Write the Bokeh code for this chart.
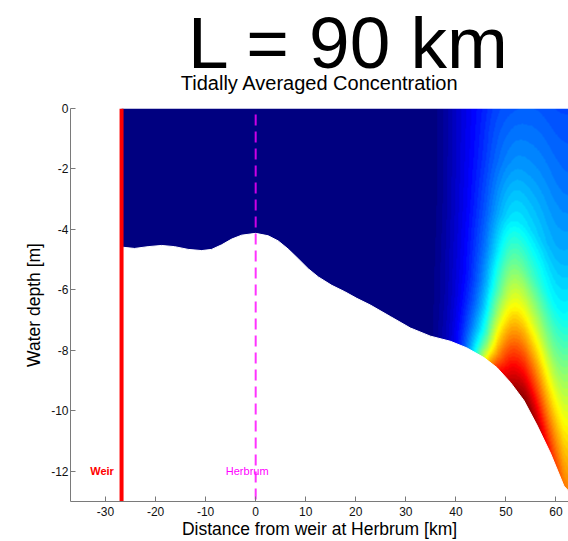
import numpy as np
from bokeh.plotting import figure
from bokeh.layouts import column
from bokeh.models import LinearColorMapper, Label, FixedTicker, Range1d
from bokeh.embed import file_html
from bokeh.resources import INLINE

# ---------------- texts ----------------
big_title = "L = 90 km"
plot_title = "Tidally Averaged Concentration"
x_label = "Distance from weir at Herbrum [km]"
y_label = "Water depth [m]"
weir_text = "Weir"
herbrum_text = "Herbrum"

# ---------------- ticks ----------------
x_ticks = [-30, -20, -10, 0, 10, 20, 30, 40, 50, 60]
x_tick_labels = ["-30", "-20", "-10", "0", "10", "20", "30", "40", "50", "60"]
y_ticks = [0, -2, -4, -6, -8, -10, -12]
y_tick_labels = ["0", "-2", "-4", "-6", "-8", "-10", "-12"]

# ---------------- data ----------------
weir_x = -26.8
herbrum_x = 0.0

# bed profile (distance km, depth m)
bed_x = [-26.8, -26.5, -24.2, -21.5, -18.8, -16.2, -13.5, -10.8, -8.8, -6.8, -4.8, -2.8,
         0.0, 2.5, 4.5, 6.5, 8.5, 10.5, 12.5, 15.2, 17.8, 20.2, 22.9, 26.9, 30.9,
         34.9, 38.9, 42.2, 45.6, 48.2, 50.9, 53.6, 56.2, 58.9, 61.6, 62.5]
bed_z = [-4.59, -4.59, -4.63, -4.57, -4.53, -4.57, -4.66, -4.70, -4.66, -4.51, -4.32, -4.19,
         -4.13, -4.21, -4.38, -4.65, -4.97, -5.30, -5.57, -5.85, -6.06, -6.28, -6.50, -6.88, -7.26,
         -7.53, -7.70, -7.92, -8.24, -8.57, -9.06, -9.66, -10.47, -11.40, -12.49, -12.65]

# tidally averaged concentration (normalised) at x positions and relative depth levels
conc_x = [34, 36, 38, 40, 42, 44, 46, 48, 50, 52, 54, 56, 58, 60, 62.5]
conc_sigma = [0.0, 0.2, 0.4, 0.55, 0.7, 0.8, 0.9, 0.95, 1.0]
conc_grid = [
    [0.00, 0.00, 0.00, 0.00, 0.00, 0.00, 0.00, 0.00, 0.00],
    [0.01, 0.01, 0.01, 0.012, 0.015, 0.015, 0.02, 0.02, 0.02],
    [0.04, 0.04, 0.04, 0.045, 0.05, 0.05, 0.055, 0.06, 0.06],
    [0.08, 0.08, 0.085, 0.09, 0.095, 0.10, 0.11, 0.115, 0.12],
    [0.11, 0.115, 0.12, 0.13, 0.14, 0.16, 0.19, 0.21, 0.23],
    [0.14, 0.15, 0.17, 0.19, 0.21, 0.24, 0.30, 0.35, 0.40],
    [0.17, 0.19, 0.22, 0.25, 0.30, 0.35, 0.43, 0.52, 0.65],
    [0.20, 0.23, 0.28, 0.34, 0.43, 0.53, 0.66, 0.73, 0.84],
    [0.21, 0.26, 0.34, 0.45, 0.57, 0.68, 0.80, 0.86, 0.92],
    [0.22, 0.28, 0.37, 0.50, 0.64, 0.75, 0.86, 0.92, 0.97],
    [0.22, 0.275, 0.35, 0.46, 0.61, 0.73, 0.86, 0.93, 1.00],
    [0.22, 0.27, 0.335, 0.43, 0.58, 0.70, 0.82, 0.89, 0.95],
    [0.21, 0.26, 0.31, 0.39, 0.52, 0.63, 0.74, 0.80, 0.86],
    [0.20, 0.245, 0.295, 0.36, 0.48, 0.58, 0.69, 0.74, 0.79],
    [0.20, 0.24, 0.31, 0.39, 0.53, 0.60, 0.67, 0.70, 0.73],
]

# ---------------- jet colormap (64 levels) ----------------
t = np.linspace(0, 1, 64)
r = np.clip(1.5 - np.abs(4 * t - 3), 0, 1)
g = np.clip(1.5 - np.abs(4 * t - 2), 0, 1)
b = np.clip(1.5 - np.abs(4 * t - 1), 0, 1)
jet = ["#%02x%02x%02x" % (int(round(255 * a)), int(round(255 * c)), int(round(255 * d)))
       for a, c, d in zip(r, g, b)]

X0, X1 = -37.0, 62.5
Y0, Y1 = -13.0, 0.0

# ---------------- field image (shading) ----------------
nx, ny = 900, 520
xs = np.linspace(weir_x, X1, nx)
ys = np.linspace(Y0, Y1, ny)
H = np.interp(xs, bed_x, bed_z)
sig = np.clip(ys[:, None] / H[None, :], 0, 1)
grid = np.array(conc_grid)
lev = np.array([np.interp(xs, conc_x, grid[:, k], left=0.0, right=grid[-1, k])
                for k in range(len(conc_sigma))])
dx = xs[1] - xs[0]
ks = 1.1 / dx
kx = np.arange(-int(3 * ks), int(3 * ks) + 1)
kern = np.exp(-0.5 * (kx / ks) ** 2)
kern /= kern.sum()
pad = len(kx) // 2
lev = np.array([np.convolve(np.pad(row, pad, mode="edge"), kern, mode="valid") for row in lev])
img = np.empty((ny, nx))
for j in range(nx):
    img[:, j] = np.interp(sig[:, j], conc_sigma, lev[:, j])

mapper = LinearColorMapper(palette=jet, low=0.0, high=1.0)

# ---------------- title strip ----------------
head = figure(width=568, height=100, x_range=Range1d(X0, X1), y_range=Range1d(0.256, 3.544),
              output_backend="svg", toolbar_location=None, title=None,
              min_border_left=70, min_border_right=0, min_border_top=0, min_border_bottom=0,
              background_fill_color="white", border_fill_color="white", outline_line_color=None)
head.axis.visible = False
head.grid.visible = False
head.add_layout(Label(x=18.7, y=2.156, text=big_title, text_font="Liberation Sans",
                      text_font_size="73px", text_align="center", text_baseline="alphabetic",
                      text_color="#000000"))
head.add_layout(Label(x=12.8, y=0.84, text=plot_title, text_font="Liberation Sans",
                      text_font_size="20px", text_align="center", text_baseline="alphabetic",
                      text_color="#000000"))

# ---------------- main plot ----------------
p = figure(width=568, height=441, x_range=head.x_range, y_range=Range1d(Y0, Y1),
           output_backend="svg", toolbar_location=None, title=None,
           min_border_left=70, min_border_right=0, min_border_top=8, min_border_bottom=38,
           background_fill_color="white", border_fill_color="white", outline_line_color=None)
p.grid.visible = False

p.image(image=[img], x=weir_x, y=Y0, dw=X1 - weir_x, dh=Y1 - Y0, color_mapper=mapper)
p.patch(x=bed_x + [bed_x[-1], bed_x[0]], y=bed_z + [Y0, Y0],
        fill_color="white", line_color="white", line_width=1)

p.line([weir_x, weir_x], [Y0, Y1], line_color="#ff0000", line_width=4)
p.line([herbrum_x, herbrum_x], [Y1, Y0], line_color="#ff00ff", line_width=2,
       line_dash="11 6", line_dash_offset=11, line_alpha=0.8)

axis_col = "#7a7a7a"
for ax in (p.xaxis[0], p.yaxis[0]):
    ax.axis_line_color = axis_col
    ax.major_tick_line_color = axis_col
    ax.minor_tick_line_color = None
    ax.major_tick_in = 5
    ax.major_tick_out = 0
    ax.major_label_text_font = "Liberation Sans"
    ax.major_label_text_font_size = "12px"
    ax.major_label_text_color = "#111111"
    ax.axis_label_text_font = "Liberation Sans"
    ax.axis_label_text_font_size = "17.5px"
    ax.axis_label_text_font_style = "normal"
    ax.axis_label_text_color = "#000000"

p.xaxis.ticker = FixedTicker(ticks=x_ticks)
p.xaxis.major_label_overrides = dict(zip(x_ticks, x_tick_labels))
p.yaxis.ticker = FixedTicker(ticks=y_ticks)
p.yaxis.major_label_overrides = dict(zip(y_ticks, y_tick_labels))
p.xaxis.axis_label = x_label
p.yaxis.axis_label = y_label
p.xaxis.major_label_standoff = 5
p.xaxis.axis_label_standoff = 0
p.yaxis.major_label_standoff = 2
p.yaxis.axis_label_standoff = 4

p.add_layout(Label(x=-30.7, y=-12.0, text=weir_text, text_font="Liberation Sans",
                   text_font_size="11px", text_font_style="bold", text_color="#ff0000",
                   text_align="center", text_baseline="middle"))
p.add_layout(Label(x=-1.7, y=-12.0, text=herbrum_text, text_font="Liberation Sans",
                   text_font_size="11px", text_color="#ff00ff",
                   text_align="center", text_baseline="middle"))

layout = column(head, p, spacing=0)
open("out.html", "w").write(file_html(layout, INLINE))
